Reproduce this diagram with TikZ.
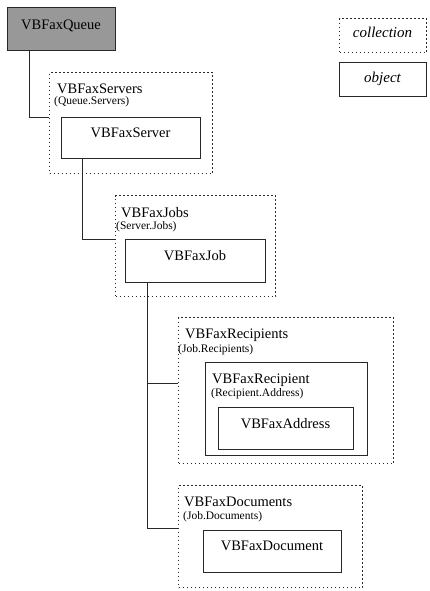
\documentclass[tikz,border=0pt]{standalone}
\usepackage{fontspec}
\setmainfont{Liberation Serif}
\usetikzlibrary{calc}
\definecolor{qgray}{RGB}{152,152,152}
\definecolor{lcol}{RGB}{40,40,40}
\tikzset{
  coll/.style={draw=lcol, line width=1.4pt, dash pattern=on 1.4pt off 2.6pt, anchor=north west, inner sep=0pt},
  obj/.style={draw=lcol, line width=0.9pt, anchor=north west, inner sep=0pt},
  link/.style={draw=lcol, line width=0.9pt},
  big/.style={font=\fontsize{14.5}{16}\selectfont, inner sep=0pt},
  small/.style={font=\fontsize{11.5}{13}\selectfont, inner sep=0pt},
  leg/.style={font=\fontsize{15}{17}\selectfont\itshape, inner sep=0pt, anchor=base},
}
\begin{document}
\begin{tikzpicture}[x=1pt,y=-1pt]
\useasboundingbox (0,0) rectangle (429,591);
% boxes
\node[obj, fill=qgray, minimum width=108pt, minimum height=43pt] (queue) at (7,7) {};
\node[coll, minimum width=163pt, minimum height=101pt] (servers) at (49,72) {};
\node[obj, minimum width=139pt, minimum height=41pt] (server) at (61,117) {};
\node[coll, minimum width=160pt, minimum height=101pt] (jobs) at (115,195) {};
\node[obj, minimum width=140pt, minimum height=43pt] (job) at (125,239) {};
\node[coll, minimum width=215pt, minimum height=146pt] (recipients) at (178,317) {};
\node[obj, minimum width=162pt, minimum height=93pt] (recipient) at (205,362) {};
\node[obj, minimum width=135pt, minimum height=42pt] (address) at (218,407) {};
\node[coll, minimum width=184pt, minimum height=102pt] (documents) at (178,485) {};
\node[obj, minimum width=138pt, minimum height=42pt] (document) at (203,530) {};
\node[coll, minimum width=87pt, minimum height=34pt] (legcoll) at (339,18) {};
\node[obj, minimum width=87pt, minimum height=34pt] (legobj) at (339,62) {};
% texts
\node[big, anchor=base] (tqueue) at (61,30) {VBFaxQueue};
\node[big, anchor=base west] (tservers) at (57,94) {VBFaxServers};
\node[small, anchor=base west] (tserversp) at (54,105) {(Queue.Servers)};
\node[big, anchor=base] (tserver) at (130.5,137) {VBFaxServer};
\node[big, anchor=base west] (tjobs) at (121,217) {VBFaxJobs};
\node[small, anchor=base west] (tjobsp) at (116,229.5) {(Server.Jobs)};
\node[big, anchor=base] (tjob) at (195,260) {VBFaxJob};
\node[big, anchor=base west] (trecipients) at (185,338) {VBFaxRecipients};
\node[small, anchor=base west] (trecipientsp) at (178,352.5) {(Job.Recipients)};
\node[big, anchor=base west] (trecipient) at (212,383) {VBFaxRecipient};
\node[small, anchor=base west] (trecipientp) at (211,396) {(Recipient.Address)};
\node[big, anchor=base] (taddress) at (285.5,428) {VBFaxAddress};
\node[big, anchor=base west] (tdocuments) at (184,506) {VBFaxDocuments};
\node[small, anchor=base west] (tdocumentsp) at (183,519) {(Job.Documents)};
\node[big, anchor=base] (tdocument) at (272,550) {VBFaxDocument};
\node[leg] (tlegcoll) at (382.5,38) {collection};
\node[leg] (tlegobj) at (382.5,83) {object};
% connectors
\draw[link] ([xshift=22pt]queue.south west) |- (servers.west |- server.north);
\draw[link] ([xshift=21pt]server.south west) |- (jobs.west |- job.north);
\draw[link] ([xshift=22pt]job.south west) |- ([yshift=-66pt]recipients.north west);
\draw[link] ([xshift=22pt]job.south west) |- ([yshift=-43pt]documents.north west);
\end{tikzpicture}
\end{document}
